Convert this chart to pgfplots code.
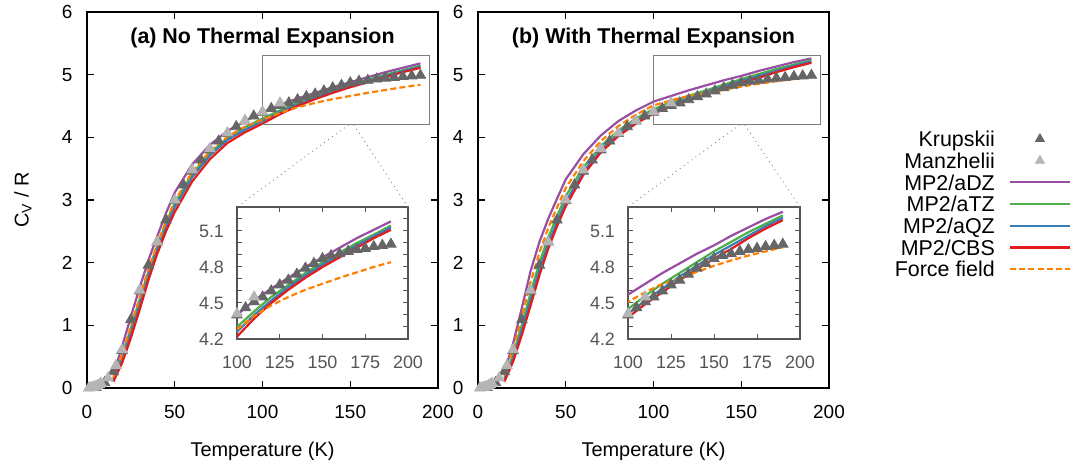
\documentclass[border=0pt]{standalone}
\usepackage{fontspec}
\setmainfont{Liberation Sans}
\usepackage{pgfplots}
\pgfplotsset{compat=1.18}
\usepackage{pgfplotstable}

\definecolor{cDZ}{HTML}{984EA3}
\definecolor{cTZ}{HTML}{4DAF4A}
\definecolor{cQZ}{HTML}{377EB8}
\definecolor{cCBS}{HTML}{E41A1C}
\definecolor{cFF}{HTML}{FF7F00}
\definecolor{cKr}{HTML}{666666}
\definecolor{cMa}{HTML}{B5B5B5}
\definecolor{cIn}{HTML}{555555}
\definecolor{cBox}{HTML}{7F7F7F}

% panel (a): no thermal expansion
\pgfplotstableread{
T   aDZ   aTZ   aQZ   CBS   FF
15  0.22  0.15  0.13  0.10  0.17
20  0.66  0.52  0.47  0.40  0.54
25  1.14  0.95  0.89  0.80  0.99
30  1.60  1.41  1.34  1.25  1.44
35  2.04  1.86  1.80  1.72  1.90
40  2.42  2.27  2.21  2.14  2.29
45  2.79  2.63  2.57  2.50  2.66
50  3.12  2.95  2.89  2.81  2.98
60  3.57  3.42  3.37  3.30  3.45
70  3.88  3.75  3.71  3.65  3.78
80  4.10  3.99  3.96  3.91  4.01
90  4.26  4.16  4.12  4.08  4.17
100 4.40  4.30  4.26  4.22  4.28
110 4.52  4.43  4.40  4.37  4.39
120 4.62  4.55  4.52  4.50  4.48
130 4.71  4.65  4.63  4.61  4.55
140 4.80  4.75  4.73  4.71  4.61
150 4.88  4.84  4.82  4.80  4.66
160 4.96  4.92  4.90  4.88  4.71
170 5.04  5.00  4.98  4.96  4.755
180 5.11  5.07  5.055 5.04  4.80
190 5.18  5.145 5.13  5.11  4.84
}\tabA

% panel (b): with thermal expansion
\pgfplotstableread{
T   aDZ   aTZ   aQZ   CBS   FF
15  0.25  0.16  0.12  0.10  0.20
20  0.71  0.53  0.47  0.42  0.62
25  1.28  1.01  0.92  0.85  1.14
30  1.87  1.52  1.41  1.32  1.69
35  2.33  2.00  1.89  1.80  2.16
40  2.70  2.40  2.30  2.22  2.55
45  3.02  2.74  2.65  2.58  2.88
50  3.33  3.06  2.97  2.90  3.19
60  3.73  3.52  3.45  3.40  3.62
70  4.03  3.86  3.80  3.76  3.94
80  4.26  4.11  4.06  4.02  4.18
90  4.43  4.30  4.25  4.22  4.36
100 4.57  4.45  4.41  4.38  4.51
110 4.66  4.56  4.52  4.49  4.59
120 4.75  4.66  4.62  4.59  4.66
130 4.83  4.75  4.72  4.69  4.70
140 4.91  4.84  4.81  4.78  4.76
150 4.98  4.93  4.90  4.87  4.81
160 5.06  5.01  4.98  4.95  4.855
170 5.13  5.09  5.06  5.04  4.895
180 5.20  5.16  5.14  5.12  4.93
190 5.26  5.23  5.21  5.19  4.965
}\tabB

\pgfplotstableread{
T   C
5   0.01
10  0.085
15  0.26
20  0.60
25  1.09
30  1.55
35  1.96
40  2.33
45  2.68
50  2.99
55  3.24
60  3.46
65  3.64
70  3.80
75  3.94
80  4.06
85  4.17
90  4.26
95  4.34
100 4.40
105 4.46
110 4.51
115 4.55
120 4.60
125 4.65
130 4.69
135 4.74
140 4.79
145 4.83
150 4.87
155 4.895
160 4.91
165 4.93
170 4.945
175 4.955
180 4.97
185 4.98
190 4.99
}\krup

\pgfplotstableread{
T    C
1    0.0
2    0.003
3    0.008
4    0.015
5    0.025
6    0.04
7    0.055
8    0.075
12   0.16
16.5 0.36
20   0.61
30   1.56
40   2.33
50   3.00
60   3.48
70   3.82
80   4.07
90   4.27
100  4.41
110  4.55
}\manz

\pgfplotsset{
  sDZ/.style={color=cDZ, line width=1.1bp, mark=none},
  sTZ/.style={color=cTZ, line width=1.1bp, mark=none},
  sQZ/.style={color=cQZ, line width=1.1bp, mark=none},
  sCBS/.style={color=cCBS, line width=1.1bp, mark=none},
  sFF/.style={color=cFF, line width=1.1bp, dash pattern=on 3bp off 1.6bp, mark=none},
  sKr/.style={only marks, mark=triangle*, mark size=3bp, color=cKr, mark options={solid, fill=cKr, draw=cKr}},
  sMa/.style={only marks, mark=triangle*, mark size=3bp, color=cMa, mark options={solid, fill=cMa, draw=cMa}},
  legline/.style={legend image code/.code={\draw[##1] (0bp,0bp) -- (30bp,0bp);}},
  legmark/.style={legend image code/.code={\draw[##1] plot coordinates {(15bp,0bp)};}},
  mainax/.style={
    scale only axis, width=175.5bp, height=188bp,
    anchor=south west,
    xmin=0, xmax=200, ymin=0, ymax=6,
    xtick={0,50,100,150,200}, ytick={0,1,2,3,4,5,6},
    tick align=inside, major tick length=3.5bp,
    every tick/.style={black, line width=0.6bp},
    axis line style={line width=0.8bp},
    /pgf/number format/assume math mode=true,
    ticklabel style={font=\fontsize{9.5}{11}\selectfont},
    xticklabel style={yshift=-5.3bp},
    yticklabel style={xshift=-3.8bp},
    label style={font=\fontsize{10.5}{12}\selectfont},
    every axis x label/.style={at={(axis description cs:0.5,0)}, anchor=center, yshift=-31.5bp},
  },
  inax/.style={
    scale only axis, height=66bp,
    anchor=south west,
    xmin=100, xmax=200, ymin=4.2, ymax=5.3,
    xtick={100,125,150,175,200}, ytick={4.2,4.5,4.8,5.1},
    minor ytick={4.3,4.4,4.6,4.7,4.9,5.0,5.2},
    tick align=inside, major tick length=2.5bp, minor tick length=2.5bp,
    every tick/.style={cIn, line width=0.5bp},
    every minor tick/.style={cIn, line width=0.5bp},
    axis line style={cIn, line width=0.7bp},
    axis background/.style={fill=white},
    /pgf/number format/assume math mode=true,
    ticklabel style={font=\fontsize{9}{10}\selectfont, text=cIn},
    yticklabel style={/pgf/number format/fixed, /pgf/number format/fixed zerofill, /pgf/number format/precision=1, xshift=-3bp},
    xticklabel style={yshift=-5bp},
  },
}

\begin{document}
\begin{tikzpicture}
\path[use as bounding box] (0,0) rectangle (538bp,231bp);

% ---- (a)
\begin{axis}[mainax, at={(43.5bp,37bp)},
  xlabel={Temperature (K)},
  ylabel={C\textsubscript{V} / R},
  every axis y label/.style={at={(axis description cs:0,0.5)}, rotate=90, anchor=center, yshift=32bp},
]
\addplot[sDZ] table[x=T,y=aDZ]{\tabA};
\addplot[sTZ] table[x=T,y=aTZ]{\tabA};
\addplot[sQZ] table[x=T,y=aQZ]{\tabA};
\addplot[sCBS] table[x=T,y=CBS]{\tabA};
\addplot[sFF] table[x=T,y=FF]{\tabA};
\addplot[sKr] table[x=T,y=C]{\krup};
\addplot[sMa] table[x=T,y=C]{\manz};
\draw[cBox, line width=0.6bp] (axis cs:100,4.2) rectangle (axis cs:195,5.3);
\coordinate (a1) at (axis cs:149,4.2);
\coordinate (a2) at (axis cs:152,4.2);
\node[font=\bfseries\fontsize{10.75}{12}\selectfont] at (rel axis cs:0.5,0.932) {(a) No Thermal Expansion};
\end{axis}

\begin{axis}[inax, at={(118.5bp,61.5bp)}, width=85.5bp, name=inA]
\addplot[sDZ] table[x=T,y=aDZ]{\tabA};
\addplot[sTZ] table[x=T,y=aTZ]{\tabA};
\addplot[sQZ] table[x=T,y=aQZ]{\tabA};
\addplot[sCBS] table[x=T,y=CBS]{\tabA};
\addplot[sFF] table[x=T,y=FF]{\tabA};
\addplot[sKr] table[x=T,y=C]{\krup};
\addplot[sMa] table[x=T,y=C]{\manz};
\end{axis}
\draw[cBox, dotted, line width=0.45bp] (a1) -- (inA.north west);
\draw[cBox, dotted, line width=0.45bp] (a2) -- (inA.north east);

% ---- (b)
\begin{axis}[mainax, at={(239bp,37bp)},
  xlabel={Temperature (K)},
  legend plot pos=right,
  legend cell align=right,
  legend style={at={(1.6895,0.6912)}, anchor=north east, draw=none, fill=none,
    inner sep=0pt, outer sep=0pt, row sep=0pt, column sep=7bp,
    font=\fontsize{10.75}{10.85}\selectfont,
    nodes={inner sep=0pt, text height=9.3bp, text depth=1.55bp}},
]
\addlegendimage{sKr, mark size=2.6bp, legmark}
\addlegendentry{Krupskii}
\addlegendimage{sMa, mark size=2.6bp, legmark}
\addlegendentry{Manzhelii}
\addlegendimage{sDZ, legline}
\addlegendentry{MP2/aDZ}
\addlegendimage{sTZ, legline}
\addlegendentry{MP2/aTZ}
\addlegendimage{sQZ, legline}
\addlegendentry{MP2/aQZ}
\addlegendimage{sCBS, legline}
\addlegendentry{MP2/CBS}
\addlegendimage{sFF, legline}
\addlegendentry{Force field}
\addplot[sDZ, forget plot] table[x=T,y=aDZ]{\tabB};
\addplot[sTZ, forget plot] table[x=T,y=aTZ]{\tabB};
\addplot[sQZ, forget plot] table[x=T,y=aQZ]{\tabB};
\addplot[sCBS, forget plot] table[x=T,y=CBS]{\tabB};
\addplot[sFF, forget plot] table[x=T,y=FF]{\tabB};
\addplot[sKr, forget plot] table[x=T,y=C]{\krup};
\addplot[sMa, forget plot] table[x=T,y=C]{\manz};
\draw[cBox, line width=0.6bp] (axis cs:100,4.2) rectangle (axis cs:195,5.3);
\coordinate (b1) at (axis cs:149,4.2);
\coordinate (b2) at (axis cs:152,4.2);
\node[font=\bfseries\fontsize{10.75}{12}\selectfont] at (rel axis cs:0.5,0.932) {(b) With Thermal Expansion};
\end{axis}

\begin{axis}[inax, at={(314bp,61.5bp)}, width=86bp, name=inB]
\addplot[sDZ] table[x=T,y=aDZ]{\tabB};
\addplot[sTZ] table[x=T,y=aTZ]{\tabB};
\addplot[sQZ] table[x=T,y=aQZ]{\tabB};
\addplot[sCBS] table[x=T,y=CBS]{\tabB};
\addplot[sFF] table[x=T,y=FF]{\tabB};
\addplot[sKr] table[x=T,y=C]{\krup};
\addplot[sMa] table[x=T,y=C]{\manz};
\end{axis}
\draw[cBox, dotted, line width=0.45bp] (b1) -- (inB.north west);
\draw[cBox, dotted, line width=0.45bp] (b2) -- (inB.north east);
\end{tikzpicture}
\end{document}
